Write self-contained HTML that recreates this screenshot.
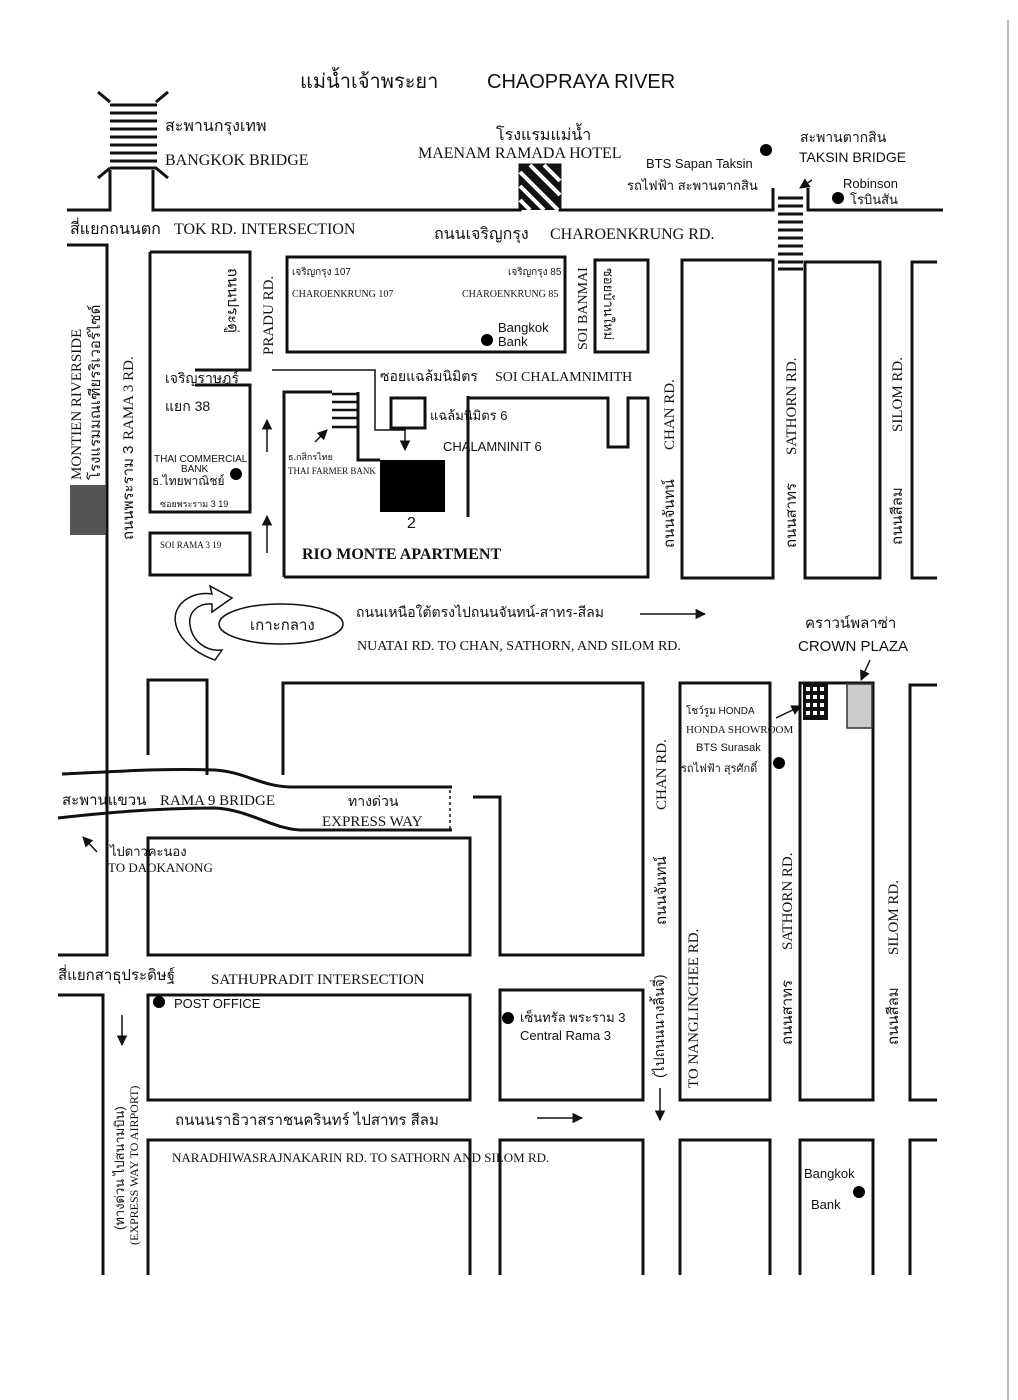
<!DOCTYPE html>
<html><head><meta charset="utf-8"><style>
html,body{margin:0;padding:0;background:#fff}
svg{display:block}
.s{font-family:"Liberation Serif",serif;fill:#111}
.a{font-family:"Liberation Sans",sans-serif;fill:#111}
.th{font-family:"Liberation Sans","DejaVu Sans",sans-serif;fill:#111}
</style></head><body>
<svg width="1018" height="1400" viewBox="0 0 1018 1400" xmlns="http://www.w3.org/2000/svg">
<defs><marker id="ar" viewBox="0 0 10 10" refX="9" refY="5" markerWidth="7" markerHeight="7" orient="auto"><path d="M0,0L10,5L0,10z" fill="#111"/></marker></defs>
<line x1="1008" y1="20" x2="1008" y2="1400" stroke="#bbb" stroke-width="2"/>
<g fill="none" stroke="#111" stroke-width="3">
<!-- bangkok bridge -->
<path d="M98,92L110,102M168,92L156,102M98,178L110,168M168,178L156,168"/>
<path d="M110,170V210H67M153,170V210H520V165H560V210H773V188M808,188V210H943"/>
<!-- charoenkrung lower & left -->
<path d="M67,245H107V955H58"/>
<path d="M150,252H250V370H195M195,385H250V512H150V252"/>
<rect x="150" y="533" width="100" height="42"/>
<rect x="287" y="257" width="278" height="95"/>
<rect x="595" y="260" width="53" height="92"/>
<path d="M284,577V392H332M358,392V460H380M468,396V517M468,398H608V447H628V398H648V577H284"/>
<rect x="391" y="398" width="34" height="30"/>
<path d="M682,578V260H773V578ZM805,578V262H880V578ZM937,262H912V578H937"/>
<!-- lower -->
<path d="M148,755V680H207V775M283,775V683H643V955H500V797H473"/>
<path d="M148,955V838H470V955Z"/>
<path d="M58,995H103V1275"/>
<rect x="148" y="995" width="322" height="105"/>
<rect x="500" y="990" width="143" height="110"/>
<path d="M148,1275V1140H470V1275M500,1275V1140H643V1275"/>
<path d="M680,1100V683H770V1100ZM680,1275V1140H770V1275M800,1275V1140H873V1275M800,1100V683H873V1100Z"/>
<path d="M937,685H910V1100H937M937,1140H910V1275"/>
<!-- rama9 bridge -->
<path d="M62,774C110,772 160,768 215,770C245,772 260,786 290,787H452"/>
<path d="M58,818C110,812 160,808 215,808C250,810 270,828 300,830H452"/>
</g>
<line x1="450" y1="790" x2="450" y2="830" stroke="#111" stroke-width="1.5" stroke-dasharray="3,3"/>
<!-- stripes -->
<g stroke="#111" stroke-width="3">
<path d="M110,105H157M110,113H157M110,121H157M110,129H157M110,137H157M110,145H157M110,153H157M110,161H157M110,168H157"/>
<path d="M778,198H803M778,206H803M778,214H803M778,222H803M778,230H803M778,238H803M778,246H803M778,254H803M778,262H803M778,269H803"/>
<path d="M332,394H358M332,402H358M332,410H358M332,418H358M332,427H358" stroke-width="2.5"/>
</g>
<rect x="520" y="165" width="40" height="45" fill="#111"/>
<g stroke="#fff" stroke-width="4"><path d="M520,172L558,210M520,186L544,210M530,165L560,195M544,165L560,181M520,200L530,210"/></g>
<rect x="380" y="460" width="65" height="52" fill="#000"/>
<rect x="70" y="485" width="36" height="50" fill="#555"/>
<rect x="803" y="683" width="25" height="37" fill="#111"/>
<g fill="#fff"><rect x="806" y="687" width="4" height="4"/><rect x="813" y="687" width="4" height="4"/><rect x="820" y="687" width="4" height="4"/><rect x="806" y="695" width="4" height="4"/><rect x="813" y="695" width="4" height="4"/><rect x="820" y="695" width="4" height="4"/><rect x="806" y="703" width="4" height="4"/><rect x="813" y="703" width="4" height="4"/><rect x="820" y="703" width="4" height="4"/><rect x="806" y="711" width="4" height="4"/><rect x="813" y="711" width="4" height="4"/><rect x="820" y="711" width="4" height="4"/></g>
<rect x="847" y="684" width="25" height="44" fill="#ccc" stroke="#333" stroke-width="1.5"/>
<!-- dots -->
<g fill="#000"><circle cx="766" cy="150" r="6"/><circle cx="838" cy="198" r="6"/><circle cx="487" cy="340" r="6"/><circle cx="236" cy="474" r="6"/><circle cx="779" cy="763" r="6"/><circle cx="159" cy="1002" r="6"/><circle cx="508" cy="1018" r="6"/><circle cx="859" cy="1192" r="6"/></g>
<!-- arrows -->
<g stroke="#111" stroke-width="1.5" fill="none" marker-end="url(#ar)">
<line x1="267" y1="452" x2="267" y2="420"/><line x1="267" y1="553" x2="267" y2="516"/>
<path d="M272,370H375V430H405V450"/>
<line x1="315" y1="442" x2="327" y2="430"/>
<line x1="640" y1="614" x2="705" y2="614"/>
<line x1="812" y1="180" x2="800" y2="188"/>
<line x1="776" y1="718" x2="801" y2="706"/>
<line x1="870" y1="660" x2="861" y2="680"/>
<line x1="97" y1="852" x2="83" y2="837"/>
<line x1="122" y1="1015" x2="122" y2="1045"/>
<line x1="660" y1="1088" x2="660" y2="1120"/>
<line x1="537" y1="1118" x2="582" y2="1118"/>
</g>
<!-- u-turn -->
<path d="M215,660C185,650 168,625 178,608C185,596 200,592 212,594L210,586L232,598L212,612L212,604C198,603 188,612 190,625C192,640 205,652 222,650Z" fill="#fff" stroke="#111" stroke-width="1.5"/>
<ellipse cx="281" cy="624" rx="62" ry="20" fill="none" stroke="#111" stroke-width="1.5"/>
<!-- text -->
<text x="300" y="88" class="th" font-size="20">แม่น้ำเจ้าพระยา</text>
<text x="487" y="88" class="a" font-size="20">CHAOPRAYA RIVER</text>
<text x="165" y="131" class="th" font-size="16">สะพานกรุงเทพ</text>
<text x="165" y="165" class="s" font-size="16">BANGKOK BRIDGE</text>
<text x="496" y="140" class="th" font-size="16">โรงแรมแม่น้ำ</text>
<text x="418" y="158" class="s" font-size="16">MAENAM RAMADA HOTEL</text>
<text x="646" y="168" class="a" font-size="13">BTS Sapan Taksin</text>
<text x="627" y="190" class="th" font-size="13">รถไฟฟ้า สะพานตากสิน</text>
<text x="800" y="142" class="th" font-size="14">สะพานตากสิน</text>
<text x="799" y="162" class="a" font-size="14">TAKSIN BRIDGE</text>
<text x="843" y="188" class="a" font-size="13">Robinson</text>
<text x="850" y="204" class="th" font-size="13">โรบินสัน</text>
<text x="70" y="234" class="th" font-size="16">สี่แยกถนนตก</text>
<text x="174" y="234" class="s" font-size="16">TOK RD. INTERSECTION</text>
<text x="434" y="239" class="th" font-size="16">ถนนเจริญกรุง</text>
<text x="550" y="239" class="s" font-size="16">CHAROENKRUNG  RD.</text>
<text x="292" y="275" class="th" font-size="10">เจริญกรุง 107</text>
<text x="292" y="297" class="s" font-size="10">CHAROENKRUNG 107</text>
<text x="508" y="275" class="th" font-size="10">เจริญกรุง 85</text>
<text x="462" y="297" class="s" font-size="10">CHAROENKRUNG 85</text>
<text x="498" y="332" class="a" font-size="13">Bangkok</text>
<text x="498" y="346" class="a" font-size="13">Bank</text>
<text x="165" y="383" class="th" font-size="14">เจริญราษฎร์</text>
<text x="165" y="411" class="th" font-size="14">แยก 38</text>
<text x="154" y="462" class="a" font-size="10">THAI COMMERCIAL</text>
<text x="181" y="472" class="a" font-size="10">BANK</text>
<text x="152" y="485" class="th" font-size="12">ธ.ไทยพาณิชย์</text>
<text x="160" y="507" class="th" font-size="9">ซอยพระราม 3  19</text>
<text x="160" y="548" class="s" font-size="9">SOI RAMA 3  19</text>
<text x="380" y="381" class="th" font-size="14">ซอยแฉล้มนิมิตร</text>
<text x="495" y="381" class="s" font-size="14">SOI CHALAMNIMITH</text>
<text x="430" y="420" class="th" font-size="13">แฉล้มนิมิตร 6</text>
<text x="443" y="451" class="a" font-size="13">CHALAMNINIT 6</text>
<text x="288" y="460" class="th" font-size="9">ธ.กสิกรไทย</text>
<text x="288" y="474" class="s" font-size="9">THAI FARMER BANK</text>
<text x="407" y="528" class="a" font-size="16">2</text>
<text x="302" y="559" class="s" font-size="16" font-weight="bold">RIO MONTE APARTMENT</text>
<text x="250" y="630" class="th" font-size="15">เกาะกลาง</text>
<text x="356" y="617" class="th" font-size="14">ถนนเหนือใต้ตรงไปถนนจันทน์-สาทร-สีลม</text>
<text x="357" y="650" class="s" font-size="14">NUATAI RD. TO CHAN, SATHORN, AND SILOM RD.</text>
<text x="805" y="628" class="th" font-size="15">คราวน์พลาซ่า</text>
<text x="798" y="651" class="a" font-size="15">CROWN PLAZA</text>
<text x="686" y="714" class="th" font-size="10">โชว์รูม HONDA</text>
<text x="686" y="733" class="s" font-size="11">HONDA SHOWROOM</text>
<text x="696" y="751" class="a" font-size="11">BTS Surasak</text>
<text x="681" y="772" class="th" font-size="11">รถไฟฟ้า สุรศักดิ์</text>
<text x="62" y="805" class="th" font-size="15">สะพานแขวน</text>
<text x="160" y="805" class="s" font-size="15">RAMA 9 BRIDGE</text>
<text x="348" y="806" class="th" font-size="14">ทางด่วน</text>
<text x="322" y="826" class="s" font-size="15">EXPRESS WAY</text>
<text x="110" y="856" class="th" font-size="13">ไปดาวคะนอง</text>
<text x="108" y="872" class="s" font-size="13">TO DAOKANONG</text>
<text x="58" y="980" class="th" font-size="15">สี่แยกสาธุประดิษฐ์</text>
<text x="211" y="984" class="s" font-size="15">SATHUPRADIT INTERSECTION</text>
<text x="174" y="1008" class="a" font-size="13">POST OFFICE</text>
<text x="520" y="1022" class="th" font-size="13">เซ็นทรัล พระราม 3</text>
<text x="520" y="1040" class="a" font-size="13">Central Rama 3</text>
<text x="175" y="1125" class="th" font-size="15">ถนนนราธิวาสราชนครินทร์ ไปสาทร สีลม</text>
<text x="172" y="1162" class="s" font-size="13">NARADHIWASRAJNAKARIN RD. TO SATHORN AND SILOM RD.</text>
<text x="804" y="1178" class="a" font-size="13">Bangkok</text>
<text x="811" y="1209" class="a" font-size="13">Bank</text>
<!-- vertical texts -->
<g class="s" font-size="15">
<text transform="translate(81,480) rotate(-90)">MONTIEN RIVERSIDE</text>
<text transform="translate(100,480) rotate(-90)" class="th">โรงแรมมณเฑียรริเวอร์ไซด์</text>
<text transform="translate(133,540) rotate(-90)" class="th">ถนนพระราม 3</text>
<text transform="translate(133,440) rotate(-90)">RAMA 3 RD.</text>
<text transform="translate(228,268) rotate(90)" class="th">ถนนประดู่</text>
<text transform="translate(273,355) rotate(-90)">PRADU RD.</text>
<text transform="translate(587,350) rotate(-90)" font-size="14">SOI BANMAI</text>
<text transform="translate(604,268) rotate(90)" class="th" font-size="13">ซอยบ้านใหม่</text>
<text transform="translate(674,548) rotate(-90)" class="th">ถนนจันทน์</text>
<text transform="translate(674,450) rotate(-90)">CHAN RD.</text>
<text transform="translate(796,548) rotate(-90)" class="th">ถนนสาทร</text>
<text transform="translate(796,455) rotate(-90)">SATHORN RD.</text>
<text transform="translate(902,545) rotate(-90)" class="th">ถนนสีลม</text>
<text transform="translate(902,432) rotate(-90)">SILOM RD.</text>
<text transform="translate(666,810) rotate(-90)">CHAN RD.</text>
<text transform="translate(666,925) rotate(-90)" class="th">ถนนจันทน์</text>
<text transform="translate(664,1078) rotate(-90)" class="th" font-size="14">(ไปถนนนางลิ้นจี่)</text>
<text transform="translate(698,1088) rotate(-90)">TO NANGLINCHEE RD.</text>
<text transform="translate(792,950) rotate(-90)">SATHORN RD.</text>
<text transform="translate(792,1045) rotate(-90)" class="th">ถนนสาทร</text>
<text transform="translate(898,955) rotate(-90)">SILOM RD.</text>
<text transform="translate(898,1045) rotate(-90)" class="th">ถนนสีลม</text>
<text transform="translate(124,1230) rotate(-90)" class="th" font-size="13">(ทางด่วน ไปสนามบิน)</text>
<text transform="translate(138,1245) rotate(-90)" font-size="12">(EXPRESS WAY TO AIRPORT)</text>
</g>
</svg>
</body></html>
